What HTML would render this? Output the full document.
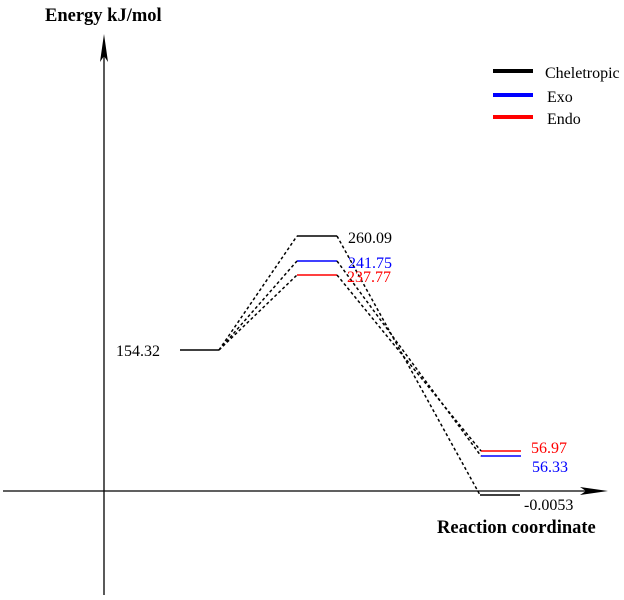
<!DOCTYPE html>
<html><head><meta charset="utf-8"><style>html,body{margin:0;padding:0;background:#fff}svg{display:block}</style></head><body>
<svg width="624" height="600" xmlns="http://www.w3.org/2000/svg" font-family="Liberation Serif, serif">
<line x1="104" y1="595" x2="104" y2="48" stroke="#000" stroke-width="1.3"/>
<polygon points="104,34 100,62 104,56 108,62" fill="#000"/>
<line x1="3" y1="491" x2="595" y2="491" stroke="#000" stroke-width="1.3"/>
<polygon points="608,491 580,487 586,491 580,495" fill="#000"/>
<text x="45" y="21" font-size="18.5" font-weight="bold">Energy kJ/mol</text>
<text x="437" y="533" font-size="18.5" font-weight="bold">Reaction coordinate</text>
<line x1="493" y1="71" x2="533" y2="71" stroke="#000" stroke-width="4"/>
<line x1="493" y1="95" x2="533" y2="95" stroke="#00f" stroke-width="4"/>
<line x1="493" y1="117" x2="533" y2="117" stroke="#f00" stroke-width="4"/>
<text x="545" y="78" font-size="16">Cheletropic</text>
<text x="547" y="102" font-size="16">Exo</text>
<text x="547" y="124" font-size="16">Endo</text>
<line x1="180" y1="350" x2="219" y2="350" stroke="#000" stroke-width="1.5"/>
<line x1="297" y1="236" x2="337" y2="236" stroke="#000" stroke-width="1.5"/>
<line x1="297" y1="261" x2="337" y2="261" stroke="#00f" stroke-width="1.5"/>
<line x1="297" y1="275" x2="337" y2="275" stroke="#f00" stroke-width="1.5"/>
<line x1="481" y1="451" x2="521" y2="451" stroke="#f00" stroke-width="1.5"/>
<line x1="481" y1="456" x2="521" y2="456" stroke="#00f" stroke-width="1.5"/>
<line x1="480" y1="495" x2="520" y2="495" stroke="#000" stroke-width="1.5"/>
<g stroke="#000" stroke-width="1.5" stroke-dasharray="3,2.5" fill="none">
<line x1="219" y1="350" x2="297" y2="236"/>
<line x1="219" y1="350" x2="297" y2="261"/>
<line x1="219" y1="350" x2="297" y2="275"/>
<line x1="337" y1="236" x2="480" y2="495"/>
<line x1="337" y1="261" x2="481" y2="456"/>
<line x1="337" y1="275" x2="481" y2="451"/>
</g>
<g font-size="16">
<text x="116" y="356">154.32</text>
<text x="348" y="243">260.09</text>
<text x="348" y="268" fill="#00f">241.75</text>
<text x="347" y="282" fill="#f00">237.77</text>
<text x="531" y="453" fill="#f00">56.97</text>
<text x="532" y="472" fill="#00f">56.33</text>
<text x="524" y="510">-0.0053</text>
</g>
</svg>
</body></html>
